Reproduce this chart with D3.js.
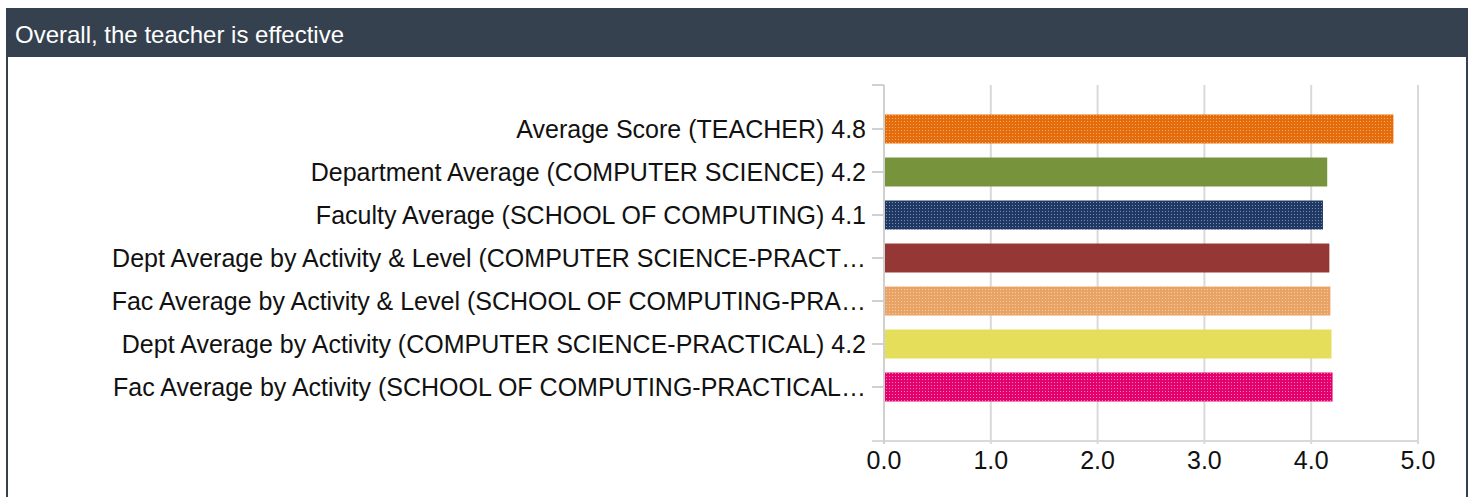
<!DOCTYPE html>
<html>
<head>
<meta charset="utf-8">
<script src="https://cdn.jsdelivr.net/npm/d3@7"></script>
<style>
  html, body { margin: 0; padding: 0; background: #fff; }
  svg text { font-family: "Liberation Sans", Arial, sans-serif; }
</style>
</head>
<body>
<script>
/* Data */

var CATEGORIES = ["Average Score (TEACHER) 4.8",
                  "Department Average (COMPUTER SCIENCE) 4.2",
                  "Faculty Average (SCHOOL OF COMPUTING) 4.1",
                  "Dept Average by Activity & Level (COMPUTER SCIENCE-PRACT\u2026",
                  "Fac Average by Activity & Level (SCHOOL OF COMPUTING-PRA\u2026",
                  "Dept Average by Activity (COMPUTER SCIENCE-PRACTICAL) 4.2",
                  "Fac Average by Activity (SCHOOL OF COMPUTING-PRACTICAL\u2026"];

var VALUES     = [4.77, 4.15, 4.11, 4.17, 4.18, 4.19, 4.2];

var X_TICKS    = [0, 1, 2, 3, 4, 5];

var TITLE      = "Overall, the teacher is effective";

/* Styles */

var BAR_FILLS  = [{base: "#e46c0a", dot: "#f3a768"},
                  {base: "#77933c"},
                  {base: "#1f3864", dot: "#7b8fb5"},
                  {base: "#953735"},
                  {base: "#e8a365", dot: "#f4caa0"},
                  {base: "#e4de5a"},
                  {base: "#e4006d", dot: "#f27fb5"}];

/* Measures */

var W = 1470,
    H = 497;

var PANEL = { left: 8, right: 1466, top: 9, headerBottom: 57 },
    PLOT  = { left: 884, right: 1418, top: 85, bottom: 441 };

var LABEL_FONT = 25,
    TITLE_FONT = 24;

var svg = d3.select("body").append("svg")
	.attr("width", W)
	.attr("height", H);

var defs = svg.append("defs");

BAR_FILLS.forEach(function(f, i) {
	if (!f.dot) return;
	var p = defs.append("pattern")
		.attr("id", "dots" + i)
		.attr("width", 3)
		.attr("height", 3)
		.attr("patternUnits", "userSpaceOnUse");
	p.append("rect").attr("width", 3).attr("height", 3).attr("fill", f.base);
	p.append("rect").attr("x", 1).attr("y", 1).attr("width", 1).attr("height", 1).attr("fill", f.dot);
});

/* Panel */

svg.append("rect")
	.attr("x", PANEL.left - 1)
	.attr("y", PANEL.top)
	.attr("width", PANEL.right - PANEL.left + 2)
	.attr("height", H - PANEL.top + 5)
	.attr("fill", "#fff")
	.attr("stroke", "#35414f")
	.attr("stroke-width", 2);

svg.append("rect")
	.attr("x", PANEL.left - 1)
	.attr("y", PANEL.top)
	.attr("width", PANEL.right - PANEL.left + 2)
	.attr("height", PANEL.headerBottom - PANEL.top)
	.attr("fill", "#35414f");

svg.append("text")
	.attr("x", 15)
	.attr("y", 43)
	.attr("fill", "#fff")
	.attr("font-size", TITLE_FONT)
	.text(TITLE);

/* Scales */

var x = d3.scaleLinear()
	.domain([0, 5])
	.range([PLOT.left, PLOT.right]);

var y = d3.scaleBand()
	.domain(CATEGORIES)
	.range([PLOT.top, PLOT.bottom - 10])
	.paddingInner(0.326)
	.paddingOuter(0.686)
	.align(0.5);

/* Grid */

svg.append("g").selectAll("line")
	.data(X_TICKS)
	.enter().append("line")
	.attr("x1", function(d) { return x(d); })
	.attr("x2", function(d) { return x(d); })
	.attr("y1", PLOT.top)
	.attr("y2", PLOT.bottom + 3)
	.attr("stroke", "#d9d9d9")
	.attr("stroke-width", 2);

svg.append("line")
	.attr("x1", PLOT.left - 12)
	.attr("x2", PLOT.right)
	.attr("y1", PLOT.bottom)
	.attr("y2", PLOT.bottom)
	.attr("stroke", "#d9d9d9")
	.attr("stroke-width", 2);

/* Left axis ticks */

var yTicks = [PLOT.top].concat(CATEGORIES.map(function(c) { return y(c) + y.bandwidth() / 2; }));

svg.append("g").selectAll("line")
	.data(yTicks)
	.enter().append("line")
	.attr("x1", PLOT.left - 12)
	.attr("x2", PLOT.left)
	.attr("y1", function(d) { return d; })
	.attr("y2", function(d) { return d; })
	.attr("stroke", "#d0d0d0")
	.attr("stroke-width", 2);

/* Bars */

svg.append("g").selectAll("rect")
	.data(VALUES)
	.enter().append("rect")
	.attr("x", x(0))
	.attr("y", function(d, i) { return y(CATEGORIES[i]); })
	.attr("width", function(d) { return x(d) - x(0); })
	.attr("height", y.bandwidth())
	.attr("fill", function(d, i) { return BAR_FILLS[i].dot ? "url(#dots" + i + ")" : BAR_FILLS[i].base; });

svg.append("line")
	.attr("x1", PLOT.left)
	.attr("x2", PLOT.left)
	.attr("y1", PLOT.top)
	.attr("y2", PLOT.bottom + 3)
	.attr("stroke", "#d0d0d0")
	.attr("stroke-width", 2);

/* Labels */

svg.append("g").selectAll("text")
	.data(CATEGORIES)
	.enter().append("text")
	.attr("x", 866)
	.attr("y", function(d) { return y(d) + y.bandwidth() / 2; })
	.attr("dy", "0.35em")
	.attr("text-anchor", "end")
	.attr("font-size", LABEL_FONT)
	.attr("fill", "#111")
	.text(String);

svg.append("g").selectAll("text")
	.data(X_TICKS)
	.enter().append("text")
	.attr("x", function(d) { return x(d); })
	.attr("y", 469)
	.attr("text-anchor", "middle")
	.attr("font-size", LABEL_FONT)
	.attr("fill", "#111")
	.text(function(d) { return d3.format(".1f")(d); });
</script>
</body>
</html>
